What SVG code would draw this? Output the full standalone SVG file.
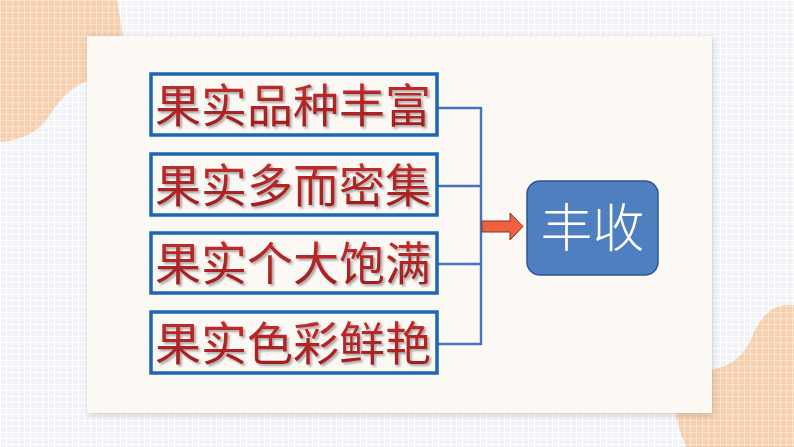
<svg xmlns="http://www.w3.org/2000/svg" width="794" height="447" viewBox="0 0 794 447">
<defs>
<pattern id="grid" width="6" height="6" patternUnits="userSpaceOnUse">
<rect width="6" height="6" fill="#F2F3F6"/>
<path d="M0 0.5H6M0.5 0V6" stroke="#FFFFFF" stroke-width="1" fill="none"/>
</pattern>
<pattern id="pgrid" width="6" height="6" patternUnits="userSpaceOnUse">
<rect width="6" height="6" fill="#F5CFAE"/>
<path d="M0 0.5H6M0.5 0V6" stroke="#F9E2CE" stroke-width="1" fill="none"/>
</pattern>
<filter id="cardShadow" x="-5%" y="-5%" width="110%" height="110%">
<feDropShadow dx="1" dy="2" stdDeviation="3" flood-color="#000" flood-opacity="0.18"/>
</filter>
<filter id="txtShadow" x="-5%" y="-10%" width="110%" height="130%">
<feDropShadow dx="2" dy="2" stdDeviation="1.2" flood-color="#555" flood-opacity="0.5"/>
</filter>
<linearGradient id="redText" x1="0" y1="0" x2="0" y2="1">
<stop offset="0" stop-color="#C9302F"/>
<stop offset="1" stop-color="#9E1B1F"/>
</linearGradient>
</defs>
<style>
.box{fill:#FCF8F4;stroke:#1D66B2;stroke-width:3.5}
.lbl{font-family:"Noto Sans CJK SC","Noto Sans CJK TC",sans-serif;font-weight:400;font-size:46px;fill:url(#redText);filter:url(#txtShadow);text-anchor:middle}
.conn{fill:none;stroke:#4472C4;stroke-width:2.4}
</style>
<rect width="794" height="447" fill="url(#grid)"/>
<path d="M0 0H117C122 30 126 55 130 80C100 70 70 82 50 115C40 130 25 140 0 142Z" fill="url(#pgrid)"/>
<path d="M794 305C775 303 765 312 755 330C745 355 735 367 700 372C680 375 672 395 677 420C680 432 683 440 686 447H794Z" fill="url(#pgrid)"/>
<rect x="87" y="36" width="625" height="377" fill="#FCF8F4" filter="url(#cardShadow)"/>
<g id="connectors">
<path class="conn" d="M437 108H481M437 186H481M437 264H481M437 344H481M481 107V345"/>
<path d="M482 221H510V213L523 226.5L510 240V232H482Z" fill="#F0603F" stroke="#7A3A2A" stroke-width="1"/>
</g>
<g id="n1"><rect class="box" x="151" y="74" width="286" height="61"/><text class="lbl" x="293" y="122">果实品种丰富</text></g>
<g id="n2"><rect class="box" x="151" y="154" width="286" height="61"/><text class="lbl" x="293" y="202">果实多而密集</text></g>
<g id="n3"><rect class="box" x="151" y="233" width="286" height="60"/><text class="lbl" x="293" y="280">果实个大饱满</text></g>
<g id="n4"><rect class="box" x="151" y="312" width="286" height="61"/><text class="lbl" x="293" y="360">果实色彩鲜艳</text></g>
<g id="n5"><rect x="527" y="181" width="131" height="94" rx="13" fill="#4F7FBE" stroke="#2F5597" stroke-width="1.5"/><text x="592.5" y="247" font-family="'Noto Sans CJK SC',sans-serif" font-weight="300" font-size="52" fill="#FFFFFF" text-anchor="middle">丰收</text></g>
</svg>
